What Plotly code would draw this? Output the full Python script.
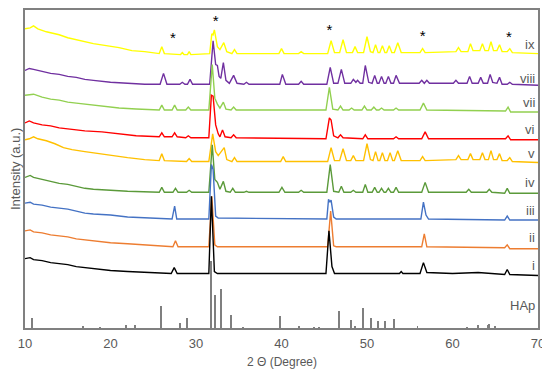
import plotly.graph_objects as go

# ---- data (intensity in arbitrary units, stacked offsets included) ----
ix_pts = [(10,302),(10.6,303),(11,305),(11.5,302),(12.5,299),(14,296),(15,293),(16.5,290),(18,287),(19.5,285),(21,283),(22.5,280),(24,279),(25.7,277),
          (26.0,284),(26.3,277),(28.2,276),(28.4,278),(28.6,276),(29.0,276),(29.2,279),(29.4,276),(31.6,277),(31.85,297),(32.0,296),(32.15,301),(32.5,284),
          (32.8,281),(33.25,288),(33.6,279),(34.2,277),(34.5,281),(34.8,277),(39.7,277),(40.0,282),(40.3,277),(42.0,277),(42.3,279),(42.6,277),(45.4,277),
          (45.8,290),(46.2,278),(46.8,278),(47.2,291),(47.6,278),(48.3,278),(48.6,284),(48.9,278),(49.6,278),(50.0,294),(50.4,279),(50.7,278),(51.0,286),
          (51.3,278),(51.5,278),(51.8,285),(52.1,278),(52.3,278),(52.6,285),(52.9,278),(53.2,278),(53.6,288),(54.0,278),(56.2,278),(56.5,282),(56.8,278),
          (60.4,279),(60.7,283),(61.0,279),(61.8,279),(62.1,287),(62.4,280),(63.2,280),(63.5,287),(63.8,280),(64.2,280),(64.5,289),(64.8,280),(65.2,280),
          (65.5,286),(65.8,279),(66.4,279),(66.7,282),(67.0,278),(70,277)]
viii_pts = [(10,260),(10.5,262),(11,261),(12,259),(13,257),(14,256),(15,254),(16,253),(17,251),(18,250),(19,249),(20,248),(22,247),(24,246),(25.8,246),
            (26.2,257),(26.6,246),(28.1,246),(28.4,248),(28.7,246),(29.0,246),(29.3,251),(29.6,246),(31.6,246),(32.0,290),(32.3,266),(32.5,265),(32.7,254),
            (32.9,252),(33.2,268),(33.5,250),(33.9,247),(34.4,255),(34.8,247),(35.6,246),(35.9,248),(36.2,246),(39.8,246),(40.1,256),(40.5,246),(42.0,246),
            (42.3,249),(42.6,246),(45.3,246),(45.7,263),(46.1,247),(46.6,247),(47.0,261),(47.4,247),(48.1,247),(48.4,251),(48.7,248),(48.9,250),(49.2,247),
            (49.5,247),(49.8,265),(50.2,248),(50.6,247),(50.9,255),(51.2,247),(51.4,247),(51.7,254),(52.0,247),(52.2,247),(52.5,254),(52.8,247),(53.1,247),
            (53.4,255),(53.8,247),(56.1,247),(56.4,250),(56.7,247),(57.0,250),(57.3,247),(60.1,247),(60.4,250),(60.7,247),(61.7,247),(62.0,254),(62.3,247),
            (63.0,247),(63.3,253),(63.6,247),(64.1,247),(64.4,256),(64.7,248),(65.2,247),(65.5,253),(65.8,246),(66.4,246),(66.7,248),(67.0,246),(70,245)]
vii_pts = [(10,235),(11,236),(12,233),(13,231),(14,230),(15,228),(16,227),(17,226),(18,225),(19,224),(21,222),(23,221),(25.7,220),
           (26.0,225),(26.3,220),(27.2,220),(27.5,225),(27.8,220),(28.8,220),(29.1,223),(29.4,220),(31.5,220),(31.9,266),(32.2,232),(32.5,226),(32.8,222),
           (33.2,228),(33.5,221),(34.1,220),(34.4,223),(34.7,220),(45.2,220),(45.6,243),(46.0,221),(46.6,220),(46.9,224),(47.2,220),(47.9,220),(48.2,222),
           (48.5,220),(49.4,220),(49.7,224),(50.0,220),(50.5,220),(50.8,223),(51.1,220),(51.4,220),(51.7,222),(52.0,220),(53.1,220),(53.4,222),(53.7,220),
           (56.2,220),(56.6,227),(57.0,220),(66.2,219),(66.5,223),(66.8,218),(70,218)]
vi_pts = [(10,207),(10.5,209),(11,207),(12,205),(13,204),(14,202),(15,201),(16,200),(17,199),(19,198),(21,196),(23,194),(25.7,193),
          (26.0,197),(26.3,193),(27.2,193),(27.5,197),(27.8,193),(28.8,192),(29.1,194),(29.4,192),(31.5,192),(31.8,235),(32.0,234),(32.3,205),(32.6,196),
          (32.8,193),(33.1,200),(33.4,193),(34.1,192),(34.4,195),(34.7,192),(45.2,191),(45.6,212),(45.8,210),(46.1,194),(46.6,192),(46.9,195),(47.2,192),
          (49.5,191),(49.8,195),(50.1,191),(53.1,191),(53.4,193),(53.7,191),(56.4,191),(56.8,198),(57.2,191),(66.2,191),(66.5,194),(66.8,190),(70,190)]
v_pts = [(10,190),(10.5,191),(11,193),(11.5,191),(12.5,189),(13.5,186),(14.5,182),(15.5,180),(17,178),(18.5,176),(20,174),(22,172),(24,170),(25.7,169),
         (26.0,176),(26.3,169),(28.9,168),(29.2,171),(29.5,168),(31.5,168),(31.95,196),(32.3,178),(32.6,174),(33.3,182),(33.6,170),(34.2,168),(34.5,172),
         (34.8,168),(39.9,168),(40.2,173),(40.5,168),(45.4,168),(45.8,182),(46.2,169),(46.8,169),(47.2,181),(47.6,169),(48.1,169),(48.4,174),(48.7,169),
         (49.6,169),(50.0,186),(50.4,170),(50.7,169),(51.0,178),(51.3,169),(51.5,169),(51.8,177),(52.1,169),(52.4,169),(52.7,177),(53.0,169),(53.2,169),
         (53.6,179),(54.0,169),(56.2,169),(56.5,173),(56.8,169),(60.4,170),(60.7,174),(61.0,170),(61.8,170),(62.1,176),(62.4,170),(63.2,170),(63.5,177),
         (63.8,170),(64.2,170),(64.5,179),(64.8,170),(65.2,170),(65.5,176),(65.8,169),(66.4,169),(66.7,172),(67.0,168),(70,167)]
iv_pts = [(10,152),(10.6,154),(11,152),(12,150),(13,148),(14,146),(15,145),(16,143),(17,141),(18,140),(20,139),(22,138),(25.7,137),
          (26.0,142),(26.3,137),(27.3,137),(27.6,141),(27.9,137),(28.9,137),(29.2,139),(29.5,137),(31.5,137),(31.9,185),(32.2,150),(32.5,147),(32.8,140),
          (33.2,148),(33.5,138),(34.0,137),(34.3,141),(34.6,137),(35.6,137),(35.9,138),(36.2,137),(39.7,137),(40.05,142),(40.4,137),(42.0,137),(42.3,139),
          (42.6,137),(45.3,137),(45.7,165),(46.1,138),(46.7,137),(47.0,143),(47.3,137),(48.1,137),(48.4,139),(48.7,137),(49.5,137),(49.8,145),(50.1,137),
          (50.6,137),(50.9,142),(51.2,137),(51.4,137),(51.7,141),(52.0,137),(52.2,137),(52.5,141),(52.8,137),(53.1,137),(53.4,142),(53.7,137),(56.4,137),
          (56.8,147),(57.2,137),(61.6,137),(61.9,140),(62.2,137),(64.0,137),(64.3,140),(64.6,137),(66.1,136),(66.4,141),(66.7,136),(70,136)]
iii_pts = [(10,126),(10.6,127),(11,125),(12,124),(13,122),(14,121),(15,120),(16,118),(17,116),(18,115),(20,114),(22,112),(25,111),(27.2,110),
           (27.5,123),(27.75,110),(31.5,110),(31.8,165),(32.0,160),(32.3,113),(32.6,111),(45.3,110),(45.5,130),(45.65,127),(45.8,129),(46.1,112),
           (46.4,110),(56.3,110),(56.6,127),(56.9,114),(57.2,110),(66.1,109),(66.4,113),(66.7,109),(70,109)]
ii_pts = [(10,98),(10.6,99),(11,97),(12,96),(13,94),(14,93),(15,92),(16,90),(17,89),(18,88),(20,86),(22,85),(25,83),(27.3,82),
          (27.6,88),(27.9,82),(31.5,82),(31.85,133),(32.2,84),(32.5,82),(45.4,82),(45.75,118),(46.1,83),(46.4,82),(56.4,82),(56.7,95),(57.0,82),
          (66.1,81),(66.4,84),(66.7,80),(70,80)]
i_pts = [(10,70),(10.6,71),(11,69),(12,68),(13,66),(14,65),(15,64),(16,62),(17,61),(18,60),(20,58),(22,57),(25,56),(27.1,55),
         (27.45,61),(27.8,55),(31.5,55),(31.8,133),(32.15,57),(32.5,55),(45.2,55),(45.55,98),(45.9,62),(46.2,55),(53.8,55),(54.0,57),(54.2,55),
         (56.2,55),(56.6,66),(57.0,56),(60,55),(62,56),(63,56),(66.1,54),(66.4,59),(66.7,54),(70,53)]

hap_pos = [10.8, 16.8, 18.8, 21.8, 22.9, 25.9, 28.1, 28.95, 31.8, 32.2, 32.9, 34.05, 35.5, 39.8, 42.0, 43.8, 44.4,
           46.7, 48.1, 48.6, 49.5, 50.5, 51.3, 52.1, 53.2, 55.9, 61.7, 63.0, 64.1, 64.25, 65.0]
hap_int = [10, 2, 1, 3, 3, 22, 5, 10, 68, 33, 39, 13, 1, 12, 2, 1, 1,
           17, 8, 2, 20, 10, 7, 7, 9, 2, 1, 3, 3, 4, 2]

star_pos = [27.3, 32.3, 45.6, 56.5, 66.6]
star_y = [291, 309, 300, 294, 292]

labels = ["ix", "viii", "vii", "vi", "v", "iv", "iii", "ii", "i", "HAp"]
label_y = [286, 252, 228, 200, 176, 147, 119, 91, 63, 23]

series = [
    ("ix", "#FFFF00", ix_pts),
    ("viii", "#7030A0", viii_pts),
    ("vii", "#92D050", vii_pts),
    ("vi", "#FF0000", vi_pts),
    ("v", "#FFC000", v_pts),
    ("iv", "#5B9A3A", iv_pts),
    ("iii", "#4472C4", iii_pts),
    ("ii", "#ED7D31", ii_pts),
    ("i", "#000000", i_pts),
]

FONT = "Liberation Sans, Arial, sans-serif"

fig = go.Figure()
fig.add_trace(go.Bar(x=hap_pos, y=hap_int, width=0.1, marker=dict(color="#7F7F7F", line=dict(width=0)),
                     showlegend=False, hoverinfo="skip"))
for name, color, pts in series:
    xs = [p[0] for p in pts]
    ys = [p[1] for p in pts]
    fig.add_trace(go.Scatter(x=xs, y=ys, mode="lines", name=name,
                             line=dict(color=color, width=1.4), showlegend=False))

fig.add_trace(go.Scatter(x=star_pos, y=star_y, mode="text", text=["*"] * len(star_pos),
                         textfont=dict(size=15, color="#000000", family="Liberation Sans"),
                         textposition="middle center", showlegend=False, hoverinfo="skip"))

for lab, ly in zip(labels, label_y):
    fig.add_annotation(x=69.9, y=ly, xref="x", yref="y", text=lab, showarrow=False,
                       xanchor="right", yanchor="middle",
                       font=dict(size=13, color="#595959", family=FONT))

fig.add_annotation(xref="paper", yref="paper", x=0, y=0.5, xshift=-10, text="Intensity (a.u.)",
                   textangle=-90, showarrow=False, xanchor="center", yanchor="middle",
                   font=dict(size=13, color="#595959", family=FONT))
fig.add_annotation(xref="paper", yref="paper", x=0.5, y=0, yshift=-34, text="2 \u0398 (Degree)",
                   showarrow=False, xanchor="center", yanchor="middle",
                   font=dict(size=12, color="#595959", family=FONT))

# the page body adds an 8 px offset, so the figure is sized to fit the window
fig.update_layout(
    width=542, height=370,
    margin=dict(l=17, r=12, t=0, b=50),
    paper_bgcolor="white", plot_bgcolor="white",
    bargap=0,
    xaxis=dict(range=[10, 70], tickvals=[10, 20, 30, 40, 50, 60, 70], showgrid=False, zeroline=False,
               showline=True, mirror=True, linecolor="#808080", linewidth=1.5, ticks="",
               ticklabelstandoff=3,
               tickfont=dict(size=13, color="#595959", family=FONT)),
    yaxis=dict(range=[0, 321], showticklabels=False, showgrid=False, zeroline=False,
               showline=True, mirror=True, linecolor="#808080", linewidth=1.5, ticks=""),
)

fig.write_html("out.html")
